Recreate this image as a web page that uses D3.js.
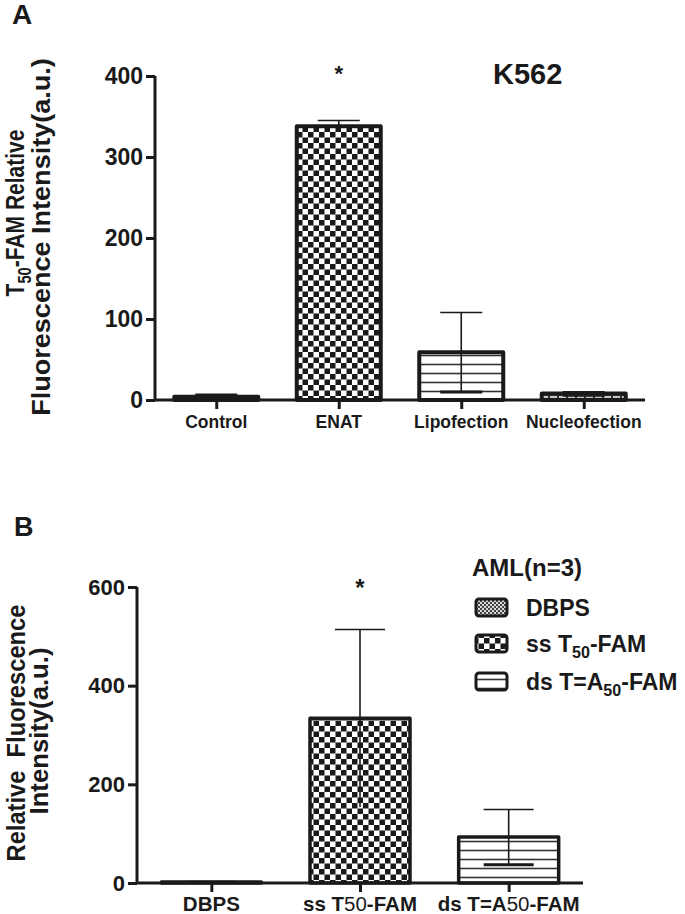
<!DOCTYPE html>
<html><head><meta charset="utf-8">
<script src="https://cdn.jsdelivr.net/npm/d3@7/dist/d3.min.js"></script>
<style>body{margin:0;background:#fff}svg text{font-family:"Liberation Sans",Arial,Helvetica,sans-serif;font-weight:bold;fill:#1a1a1a}</style>
</head><body>
<svg id="c" width="685" height="914"></svg>
<script>
// Panel A data
const catsA = ["Control", "ENAT", "Lipofection", "Nucleofection"];
const meanA = [4, 338, 59, 8];
const errA = [3, 7, 49, 2];
const patA = ["fine", "check", "lines", "dash"];
const ticksA = [0, 100, 200, 300, 400];
// Panel B data
const catsB = ["DBPS", "ss T50-FAM", "ds T=A50-FAM"];
const meanB = [2, 334, 93];
const errB = [1, 180, 56];
const patB = ["fine", "check", "lines"];
const ticksB = [0, 200, 400, 600];
const legendTitle = "AML(n=3)";

const svg = d3.select("#c");
const ink = "#1a1a1a";
const defs = svg.append("defs");
// checkerboard
const pc = defs.append("pattern").attr("id","check").attr("patternUnits","userSpaceOnUse").attr("width",11).attr("height",11);
pc.append("rect").attr("width",11).attr("height",11).attr("fill","#fff");
pc.append("rect").attr("width",5.5).attr("height",5.5).attr("fill",ink);
pc.append("rect").attr("x",5.5).attr("y",5.5).attr("width",5.5).attr("height",5.5).attr("fill",ink);
// fine check
const pf = defs.append("pattern").attr("id","fine").attr("patternUnits","userSpaceOnUse").attr("width",4).attr("height",4);
pf.append("rect").attr("width",4).attr("height",4).attr("fill","#d8d8d8");
pf.append("rect").attr("width",2).attr("height",2).attr("fill","#444");
pf.append("rect").attr("x",2).attr("y",2).attr("width",2).attr("height",2).attr("fill","#444");
// horizontal lines
const pl = defs.append("pattern").attr("id","lines").attr("patternUnits","userSpaceOnUse").attr("width",10).attr("height",9);
pl.append("rect").attr("width",10).attr("height",9).attr("fill","#fff");
pl.append("line").attr("x1",0).attr("x2",10).attr("y1",4.5).attr("y2",4.5).attr("stroke","#333").attr("stroke-width",1.6);
// dashes
const pd = defs.append("pattern").attr("id","dash").attr("patternUnits","userSpaceOnUse").attr("width",9).attr("height",5);
pd.append("rect").attr("width",9).attr("height",5).attr("fill","#333");
pd.append("rect").attr("x",1).attr("y",1).attr("width",7).attr("height",3).attr("fill","#c8c8c8");

function labelWithSub(sel, s, mode, fs) {
  const parts = s.split("50");
  sel.append("tspan").text(parts[0]);
  if (parts.length > 1) {
    if (mode === "plain") {
      sel.append("tspan").attr("font-weight","normal").text("50");
    } else {
      sel.append("tspan").attr("font-size", fs*0.7).attr("dy", fs*0.28).text("50");
    }
    sel.append("tspan").attr("dy", mode === "plain" ? 0 : -fs*0.28).text(parts[1]);
  }
}

function panel(o) {
  const g = svg.append("g");
  const x = d3.scalePoint().domain(o.cats).range([o.x0, o.x1]).padding(0.5);
  const y = d3.scaleLinear().domain([0, o.ymax]).range([o.yb, o.yt]);
  const bw = o.bw;
  o.cats.forEach((c, i) => {
    const cx = x(c), top = y(o.mean[i]), bot = y(0);
    g.append("rect").attr("x", cx - bw/2).attr("y", top).attr("width", bw).attr("height", Math.max(bot - top, 0.5))
      .attr("fill", "url(#" + o.pat[i] + ")").attr("stroke", ink).attr("stroke-width", o.sw).attr("stroke-linejoin","round");
    const hi = y(o.mean[i] + o.err[i]), lo = y(Math.max(o.mean[i] - o.err[i], 0));
    g.append("line").attr("x1",cx).attr("x2",cx).attr("y1",hi).attr("y2",lo).attr("stroke",ink).attr("stroke-width",1.6);
    g.append("line").attr("x1",cx-bw/4).attr("x2",cx+bw/4).attr("y1",hi).attr("y2",hi).attr("stroke",ink).attr("stroke-width",1.6);
    if (o.pat[i] !== "check")
      g.append("line").attr("x1",cx-bw/4).attr("x2",cx+bw/4).attr("y1",lo).attr("y2",lo).attr("stroke",ink).attr("stroke-width",3);
  });
  const ay = g.append("g").attr("transform", `translate(${o.x0},0)`)
    .call(d3.axisLeft(y).tickValues(o.ticks).tickSize(o.tk).tickPadding(3));
  ay.select(".domain").attr("stroke", ink).attr("stroke-width", 3).attr("d", `M0,${o.yb}V${o.yt}`);
  ay.selectAll(".tick line").attr("stroke", ink).attr("stroke-width", 3);
  ay.selectAll(".tick text").attr("font-size", o.tfs).attr("fill", ink).attr("font-family", null);
  const ax = g.append("g").attr("transform", `translate(0,${o.yb})`)
    .call(d3.axisBottom(x).tickSize(o.tk).tickFormat(""));
  ax.select(".domain").attr("stroke", ink).attr("stroke-width", 3).attr("d", `M${o.x0},0H${o.x1}`);
  ax.selectAll(".tick line").attr("stroke", ink).attr("stroke-width", 3);
  o.cats.forEach(c => {
    const t = g.append("text").attr("x", x(c)).attr("y", o.xlab).attr("text-anchor","middle").attr("font-size", o.xfs);
    labelWithSub(t, c, "plain", o.xfs);
  });
  return {x, y};
}

const A = panel({cats: catsA, mean: meanA, err: errA, pat: patA, ticks: ticksA, ymax: 400,
  x0: 155, x1: 645, yb: 400, yt: 76, bw: 84, sw: 4, tk: 9, tfs: 23, xfs: 17.5, xlab: 428});
const B = panel({cats: catsB, mean: meanB, err: errB, pat: patB, ticks: ticksB, ymax: 600,
  x0: 137, x1: 583, yb: 883, yt: 587, bw: 100, sw: 3.5, tk: 9, tfs: 22, xfs: 20.5, xlab: 911});

// panel letters
svg.append("text").attr("x", 12).attr("y", 24).attr("font-size", 28).text("A");
svg.append("text").attr("x", 14).attr("y", 536).attr("font-size", 27).text("B");
// K562
svg.append("text").attr("x", 493).attr("y", 84).attr("font-size", 29).text("K562");
// stars
svg.append("text").attr("x", A.x("ENAT")).attr("y", 81).attr("text-anchor","middle").attr("font-size", 22).text("*");
svg.append("text").attr("x", B.x("ss T50-FAM")).attr("y", 596).attr("text-anchor","middle").attr("font-size", 24).text("*");

// y titles: fit each line to its measured length along the axis
function ytitle(cx, cy, fs, len, build) {
  const t = svg.append("text").attr("text-anchor","middle").attr("font-size", fs);
  build(t);
  const w = t.node().getComputedTextLength ? t.node().getBBox().width : len;
  const s = len / w;
  t.attr("transform", `translate(${cx},${cy}) rotate(-90) scale(${s},1)`);
}
ytitle(24, 213, 25, 167, t => labelWithSub(t, "T50-FAM Relative", "sub", 25));
ytitle(50, 237, 26, 358, t => t.text("Fluorescence Intensity(a.u.)"));
ytitle(25, 733, 25, 257, t => t.text("Relative\u00a0 Fluorescence"));
ytitle(48, 731, 25, 167, t => t.text("Intensity(a.u.)"));

// legend
svg.append("text").attr("x", 472).attr("y", 576).attr("font-size", 24).text(legendTitle);
const ly = [599, 635, 673];
catsB.forEach((c, i) => {
  svg.append("rect").attr("x", 476).attr("y", ly[i]).attr("width", 31).attr("height", 17).attr("rx", 3)
    .attr("fill", "url(#" + patB[i] + ")").attr("stroke", ink).attr("stroke-width", 3);
  const t = svg.append("text").attr("x", 526).attr("y", ly[i] + 17).attr("font-size", 23);
  labelWithSub(t, c, "sub", 23);
});
</script>
</body></html>
